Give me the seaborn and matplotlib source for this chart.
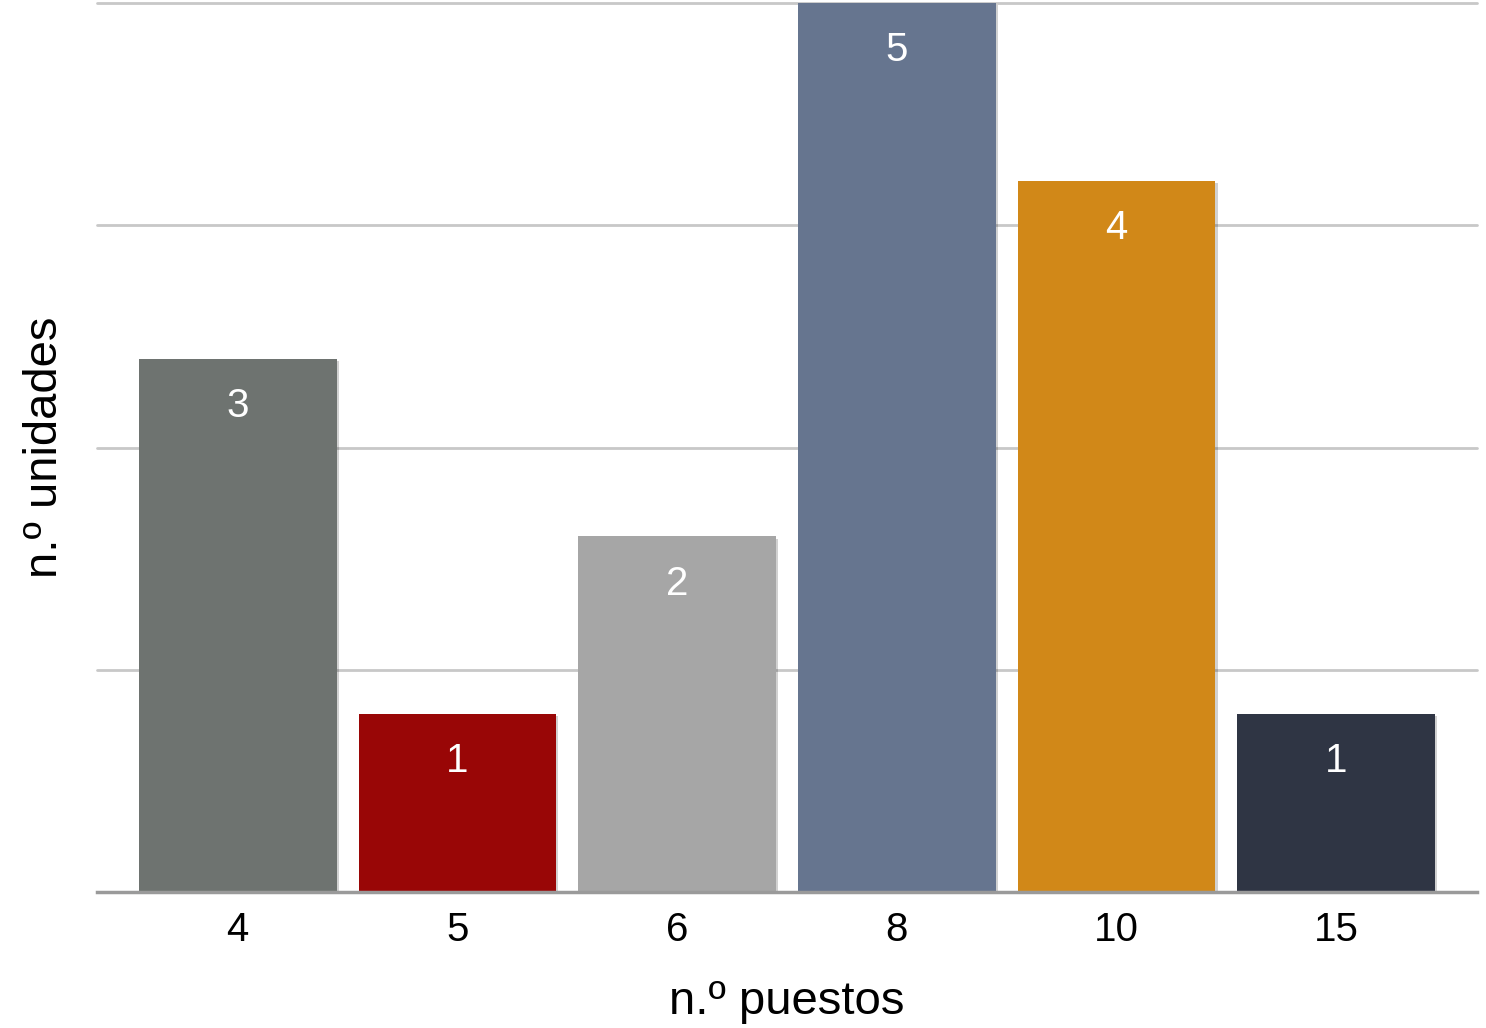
import matplotlib
matplotlib.use("Agg")
import matplotlib.pyplot as plt
import matplotlib.patheffects as pe
import pandas as pd
import seaborn as sns

# n.º puestos vs n.º unidades
puestos = ["4", "5", "6", "8", "10", "15"]
unidades = [3, 1, 2, 5, 4, 1]
colores = ["#6e7370", "#990606", "#a6a6a6", "#66758f", "#d18818", "#2f3544"]

df = pd.DataFrame({"puestos": puestos, "unidades": unidades})

sns.set_theme(style="white")
plt.rcParams["font.family"] = ["Liberation Sans", "DejaVu Sans"]

fig = plt.figure(figsize=(14.86, 10.28), dpi=100)
ax = fig.add_axes([0.0653, 0.1323, 0.9286, 0.8647])

sns.barplot(
    data=df,
    x="puestos",
    y="unidades",
    hue="puestos",
    palette=colores,
    order=puestos,
    hue_order=puestos,
    width=0.9,
    legend=False,
    errorbar=None,
    saturation=1,
    ax=ax,
)

for bar in ax.patches:
    bar.set_linewidth(0)
    bar.set_zorder(3)
    bar.set_path_effects([
        pe.SimplePatchShadow(offset=(1.5, -1.5), shadow_rgbFace="#000000", alpha=0.18),
        pe.Normal(),
    ])

# white value labels inside the top of each bar
for bar, v in zip(ax.patches, unidades):
    ax.annotate(
        str(v),
        xy=(bar.get_x() + bar.get_width() / 2, bar.get_height()),
        xytext=(0, -34),
        textcoords="offset points",
        ha="center",
        va="center",
        color="white",
        fontsize=29,
        zorder=5,
    )

ax.set_xlim(-0.64, 5.64)
ax.set_ylim(0, 5)
ax.set_yticks([0, 1.25, 2.5, 3.75, 5])
ax.set_yticklabels([])
ax.tick_params(axis="y", length=0)
ax.tick_params(axis="x", length=0, labelsize=29, pad=14, colors="black")
ax.yaxis.grid(True, color="#c8c8c8", linewidth=2, zorder=0)
ax.set_axisbelow(True)
for ln in ax.get_ygridlines():
    ln.set_clip_on(False)

for side in ["left", "right", "top"]:
    ax.spines[side].set_visible(False)
ax.spines["bottom"].set_color("#9a9a9a")
ax.spines["bottom"].set_linewidth(2.5)
ax.spines["bottom"].set_zorder(4)

ax.set_xlabel("n.º puestos", fontsize=34, labelpad=22, color="black")
ax.set_ylabel("n.º unidades", fontsize=34, labelpad=18, color="black")

fig.savefig("out.png", dpi=100)
